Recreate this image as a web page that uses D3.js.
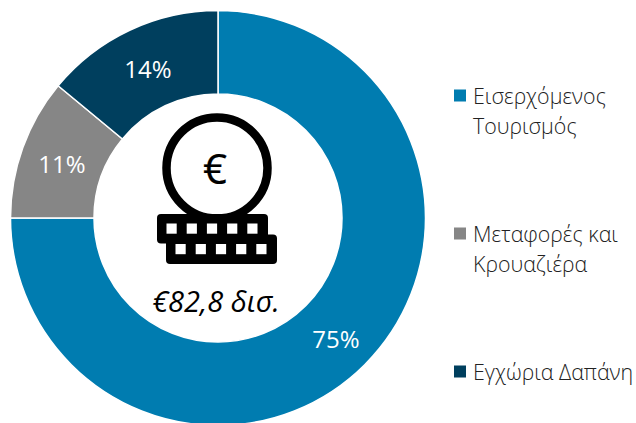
<!DOCTYPE html>
<html><head><meta charset="utf-8">
<script src="https://cdn.jsdelivr.net/npm/d3@7"></script>
<style>html,body{margin:0;background:#fff}svg{display:block}text{font-family:"Open Sans",sans-serif}</style>
</head><body><svg id="c" width="636" height="423"></svg>
<script>
const categories=[["Εισερχόμενος","Τουρισμός"],["Μεταφορές και","Κρουαζιέρα"],["Εγχώρια Δαπάνη"]];
const values=[75,11,14];
const labels=["75%","11%","14%"];
const colors=["#007cb0","#868686","#003f5e"];
const totalLabel="€82,8 δισ.";
const svg=d3.select("#c");
const cx=218,cy=218,R=207.5,r=124;
const pie=d3.pie().sort(null)(values);
const arc=d3.arc().innerRadius(r).outerRadius(R);
const g=svg.append("g").attr("transform",`translate(${cx},${cy})`);
g.selectAll("path").data(pie).join("path").attr("d",arc).attr("fill",(d,i)=>colors[i]).attr("stroke","#fff").attr("stroke-width",1.5);
const labelPos=[[118,121],[-156,-54],[-70,-149]];
g.selectAll("text").data(pie).join("text").attr("x",(d,i)=>labelPos[i][0]).attr("y",(d,i)=>labelPos[i][1])
 .attr("text-anchor","middle").attr("dy","0.36em").attr("fill","#fff").attr("font-size",24).text((d,i)=>labels[i]);
// central icon
const ic=svg.append("g");
ic.append("circle").attr("cx",217).attr("cy",168).attr("r",50.5).attr("fill","#fff").attr("stroke","#000").attr("stroke-width",8.5);
ic.append("text").attr("x",215).attr("y",169).attr("text-anchor","middle").attr("dy","0.36em").attr("font-size",42).attr("stroke","#000").attr("stroke-width",0.2).attr("fill","#000").text("€");
[[157,214],[166,234.5]].forEach(([x,y])=>{
  ic.append("rect").attr("x",x).attr("y",y).attr("width",111).attr("height",29.5).attr("rx",4).attr("fill","#000");
  d3.range(5).forEach(i=>ic.append("rect").attr("x",x+9.5+i*20.2).attr("y",y+9.5).attr("width",10.2).attr("height",10.2).attr("fill","#fff"));
});
svg.append("text").attr("x",216).attr("y",302).attr("text-anchor","middle").attr("dy","0.36em").attr("font-size",29).attr("font-style","italic").attr("fill","#000").text(totalLabel);
// legend
const legY=[96,234,372];
const leg=svg.selectAll("g.l").data(categories).join("g").attr("class","l").attr("transform",(d,i)=>`translate(454,${legY[i]})`);
leg.append("rect").attr("y",-6.5).attr("width",12).attr("height",12).attr("fill",(d,i)=>colors[i]);
leg.selectAll("text").data(d=>d).join("text").attr("x",19).attr("y",(d,i)=>i*30).attr("dy","0.36em").attr("font-size",21.4).attr("font-weight",300).attr("fill","#222").text(d=>d);
</script></body></html>
